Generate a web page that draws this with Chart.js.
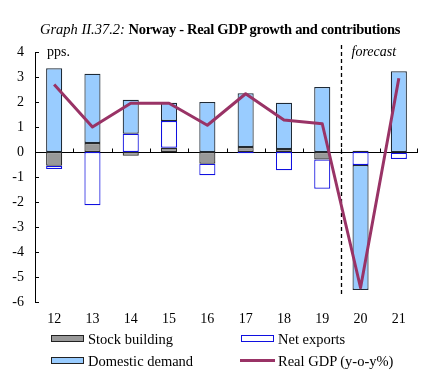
<!DOCTYPE html>
<html>
<head>
<meta charset="utf-8">
<script src="https://cdn.jsdelivr.net/npm/chart.js@4/dist/chart.umd.min.js"></script>
<style>
  body { margin:0; background:#fff; font-family:"Liberation Serif", "Times New Roman", serif; }
  #wrap { position:relative; width:428px; height:391px; }
  #chart { position:absolute; left:0; top:0; }
  #title { position:absolute; left:0; top:21px; width:440px; text-align:center; font-size:14.5px; color:#000; white-space:nowrap; }
  #title i { font-style:italic; }
  #title b { font-weight:bold; letter-spacing:-0.3px; }
  .leg { position:absolute; font-size:14.5px; color:#000; white-space:nowrap; line-height:16px; }
  .sw { position:absolute; width:31px; height:5px; }
</style>
</head>
<body>
<div id="wrap">
  <canvas id="chart" width="428" height="391"></canvas>
  <div id="title"><i>Graph II.37.2:</i> <b>Norway - Real GDP growth and contributions</b></div>

  <div class="sw" style="left:51px;top:335px;background:#999;border:1px solid #222;"></div>
  <div class="leg" style="left:88px;top:331px;">Stock building</div>
  <div class="sw" style="left:241px;top:335px;background:#fff;border:1px solid #1010e0;"></div>
  <div class="leg" style="left:278px;top:331px;">Net exports</div>

  <div class="sw" style="left:51px;top:357px;background:#99ccff;border:1px solid #222;"></div>
  <div class="leg" style="left:88px;top:353px;">Domestic demand</div>
  <div class="sw" style="left:240px;top:359px;height:3px;width:35px;background:#993366;"></div>
  <div class="leg" style="left:278px;top:353px;">Real GDP (y-o-y%)</div>
</div>

<script>
// values (pps.)
const years = ['12', '13', '14', '15', '16', '17', '18', '19', '20', '21'];
const stockBuilding  = [-0.55, 0.36, -0.15, 0.17, -0.47, 0.20, 0.12, -0.30, 0.05, -0.03];
const netExports     = [-0.13, -2.13, 0.73, 1.07, -0.46, -0.05, -0.73, -1.17, -0.52, -0.25];
const domesticDemand = [3.35, 2.77, 1.36, 0.73, 2.00, 2.15, 1.85, 2.60, -5.00, 3.23];
const realGdp        = [2.70, 1.00, 1.95, 1.95, 1.07, 2.33, 1.28, 1.13, -5.43, 2.95];
const yTicks = [-6, -5, -4, -3, -2, -1, 0, 1, 2, 3, 4];
const forecastFrom = 8; // index of first forecast year

const FONT = '"Liberation Serif", "Times New Roman", serif';

// axis decorations the way the original draws them
const decorations = {
  id: 'decorations',
  beforeDatasetsDraw(chart) {
    const { ctx, chartArea: a, scales: { x, y } } = chart;
    ctx.save();
    ctx.strokeStyle = '#000';
    ctx.lineWidth = 1;

    // inward y ticks
    yTicks.forEach(v => {
      const py = Math.round(y.getPixelForValue(v)) + 0.5;
      ctx.beginPath(); ctx.moveTo(a.left, py); ctx.lineTo(a.left + 4, py); ctx.stroke();
    });

    // zero line with category ticks
    const y0 = Math.round(y.getPixelForValue(0)) + 0.5;
    ctx.beginPath(); ctx.moveTo(a.left, y0); ctx.lineTo(a.right, y0); ctx.stroke();
    for (let i = 0; i < years.length; i++) {
      const px = i < years.length - 1
        ? Math.round((x.getPixelForValue(i) + x.getPixelForValue(i + 1)) / 2) + 0.5
        : a.right - 0.5;
      ctx.beginPath(); ctx.moveTo(px, y0); ctx.lineTo(px, y0 - 4); ctx.stroke();
    }

    // forecast divider
    const fx = Math.round((x.getPixelForValue(forecastFrom - 1) + x.getPixelForValue(forecastFrom)) / 2) + 0.5;
    ctx.setLineDash([4, 3]);
    ctx.lineWidth = 1.3;
    ctx.beginPath(); ctx.moveTo(fx, a.top - 7); ctx.lineTo(fx, a.bottom - 5); ctx.stroke();
    ctx.setLineDash([]);

    ctx.fillStyle = '#000';
    ctx.textBaseline = 'middle';
    ctx.font = '14px ' + FONT;
    ctx.fillText('pps.', a.left + 12, a.top);
    ctx.font = 'italic 14px ' + FONT;
    ctx.fillText('forecast', fx + 10, a.top);
    ctx.restore();
  }
};

new Chart(document.getElementById('chart'), {
  type: 'bar',
  data: {
    labels: years,
    datasets: [
      { type: 'line', label: 'Real GDP (y-o-y%)', data: realGdp, stack: 'gdp', order: 0,
        borderColor: '#993366', borderWidth: 3, borderJoinStyle: 'round', pointRadius: 0, tension: 0, fill: false },
      { label: 'Stock building', data: stockBuilding, order: 1,
        backgroundColor: '#999999', borderColor: '#2a2a2a', borderWidth: 1.2, borderSkipped: false },
      { label: 'Net exports', data: netExports, order: 1,
        backgroundColor: '#ffffff', borderColor: '#1010e0', borderWidth: 1.2, borderSkipped: false },
      { label: 'Domestic demand', data: domesticDemand, order: 1,
        backgroundColor: '#99ccff', borderColor: '#1e2a36', borderWidth: 1.2, borderSkipped: false }
    ]
  },
  options: {
    responsive: false,
    animation: false,
    layout: { padding: { top: 52, right: 10, bottom: 59, left: 0 } },
    datasets: { bar: { barPercentage: 0.42, categoryPercentage: 1 } },
    plugins: { legend: { display: false }, tooltip: { enabled: false }, title: { display: false } },
    scales: {
      x: {
        stacked: true,
        grid: { display: false, drawTicks: false },
        border: { display: false },
        ticks: { color: '#000', padding: 9, font: { family: FONT, size: 14 } },
        afterFit(s) { s.height = 30; }
      },
      y: {
        stacked: true,
        min: -6, max: 4,
        grid: { display: false, drawTicks: false },
        border: { display: true, color: '#000', width: 1 },
        ticks: { stepSize: 1, color: '#000', padding: 11, font: { family: FONT, size: 14 } },
        afterFit(s) { s.width = 35; }
      }
    }
  },
  plugins: [decorations]
});
</script>
</body>
</html>
